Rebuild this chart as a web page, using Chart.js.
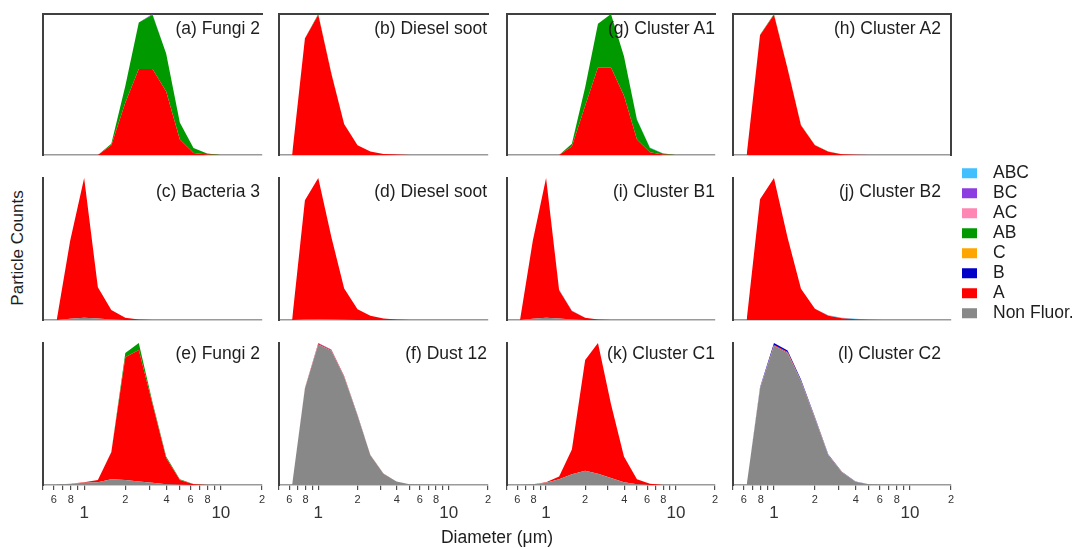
<!DOCTYPE html>
<html><head><meta charset="utf-8">
<script src="https://cdn.jsdelivr.net/npm/chart.js@4.4.1/dist/chart.umd.min.js"></script>
<style>
html,body{margin:0;padding:0;background:#fff}
body{width:1079px;height:548px;position:relative;overflow:hidden;font-family:"Liberation Sans",Arial,Helvetica,sans-serif;color:#1e1e1e}
canvas{position:absolute}
.ttl{position:absolute;font-size:17.5px;line-height:1;white-space:nowrap;transform:translate(-100%,-50%)}
.legrow{position:absolute;left:962px;white-space:nowrap;transform:translateY(-50%);display:flex;align-items:center;font-size:17.5px;line-height:1}
.sw{display:inline-block;width:15px;height:10px;margin-right:16px}
.ylab{position:absolute;left:18px;top:248px;font-size:17px;white-space:nowrap;transform:translate(-50%,-50%) rotate(-90deg)}
.xlab{position:absolute;left:497px;top:537px;font-size:17.5px;white-space:nowrap;transform:translate(-50%,-50%)}
</style></head><body>
<script>
// ---------- data ----------
const diameters = [0.63, 0.79, 1.0, 1.26, 1.58, 2.0, 2.51, 3.16, 3.98, 5.01, 6.31, 7.94, 10.0];
const seriesNames = ['Non Fluor.', 'A', 'B', 'C', 'AB', 'AC', 'BC', 'ABC'];
const seriesColors = ['#888888', '#ff0000', '#0000c8', '#ffa500', '#009a00', '#ff85b5', '#8c3ce0', '#40c0ff'];
const xTickValues = [0.5, 0.6, 0.7, 0.8, 0.9, 1, 2, 3, 4, 5, 6, 7, 8, 9, 10, 20];
const xTickLabels = ['', '6', '', '8', '', '1', '2', '', '4', '', '6', '', '8', '', '10', '2'];
const xMajorLabels = ['1', '10'];
const xAxisTitle = 'Diameter (\u03bcm)';
const yAxisTitle = 'Particle Counts';

// (a) Fungi 2
const aA  = [0, 0, 0, 0, 7, 37, 61, 61, 45, 11, 1.5, 0.3, 0];
const aAB = [0, 0, 0, 0, 1, 12, 33, 38.5, 27, 12, 3.5, 0.7, 0];
const aBC = [0, 0, 0, 0, 0, 0, 0, 0.5, 0, 0, 0, 0, 0];
// (b) Diesel soot
const bA  = [0, 83, 100, 58, 22, 7, 2.5, 0.8, 0.3, 0, 0, 0, 0];
const bAB = [0, 0.3, 0.5, 0.3, 0.1, 0, 0, 0, 0, 0, 0, 0, 0];
// (c) Bacteria 3
const cNon = [0, 0.8, 1.5, 1, 0.4, 0, 0, 0, 0, 0, 0, 0, 0];
const cA   = [0, 55, 98.5, 22, 6.6, 1.5, 0.3, 0, 0, 0, 0, 0, 0];
// (d) Diesel soot
const dNon = [0, 0.3, 0.5, 0.4, 0.2, 0, 0, 0, 0, 0, 0, 0, 0];
const dA   = [0, 84, 99.5, 58, 22, 7.5, 3, 1, 0.4, 0, 0, 0, 0];
// (e) Fungi 2
const eNon = [0.3, 0.8, 1.5, 2, 4, 3.5, 2.5, 1.5, 0.5, 0.1, 0, 0, 0];
const eA   = [0, 0, 0.5, 1.5, 19, 86.5, 92.5, 55.5, 18.5, 3.4, 0.5, 0, 0];
const eAB  = [0, 0, 0, 0, 0.3, 3, 5, 1.5, 1, 0.5, 0.2, 0, 0];
// (f) Dust 12
const fNon = [0, 68, 99, 94.5, 76, 49, 21, 8, 2.5, 0.6, 0.2, 0, 0];
const fA   = [0, 0.3, 0.6, 0.6, 0.5, 0.3, 0.2, 0.1, 0, 0, 0, 0, 0];
const fBC  = [0, 0, 0.4, 0.4, 0.3, 0.2, 0, 0, 0, 0, 0, 0, 0];
// (g) Cluster A1
const gA   = [0, 0, 0, 0, 6, 35, 62, 62, 42, 11, 2, 0.3, 0];
const gAB  = [0, 0, 0, 0, 2, 13, 31, 38, 28, 14, 3, 0.7, 0];
const gABC = [0, 0, 0, 0, 0, 0, 0, 0, 0, 0.3, 0.4, 0.2, 0];
// (h) Cluster A2
const hA  = [0, 85, 99.5, 61, 21, 7, 2.3, 0.5, 0.2, 0, 0, 0, 0];
const hAB = [0, 0.3, 0.5, 0.3, 0.2, 0.1, 0.1, 0.1, 0.05, 0, 0, 0, 0];
// (i) Cluster B1
const iNon = [0, 0.8, 1.5, 1, 0.4, 0, 0, 0, 0, 0, 0, 0, 0];
const iA   = [0, 55, 98.5, 20, 6, 1.5, 0.3, 0, 0, 0, 0, 0, 0];
const iABC = [0, 0, 0, 0.4, 0.3, 0, 0, 0, 0, 0, 0, 0, 0];
// (j) Cluster B2
const jA   = [0, 85, 100, 58, 22, 8, 3, 1.2, 0.5, 0.1, 0, 0, 0];
const jABC = [0, 0, 0, 0, 0, 0, 0.3, 0.4, 0.3, 0.2, 0, 0, 0];
// (k) Cluster C1
const kNon = [0, 0.5, 1.5, 4, 7.5, 10, 8, 5, 2, 0.5, 0, 0, 0];
const kA   = [0, 0, 0.5, 2, 17.5, 78, 92, 52, 18, 3.5, 0.8, 0, 0];
// (l) Cluster C2
const lNon = [0, 68, 98, 93, 73, 47, 21, 9, 2.3, 0.5, 0, 0, 0];
const lA   = [0, 0.3, 0.6, 0.6, 0.5, 0.3, 0.2, 0.1, 0, 0, 0, 0, 0];
const lB   = [0, 0.5, 1.4, 1.2, 0.8, 0.5, 0.3, 0.2, 0.1, 0.05, 0, 0, 0];

// ---------- layout ----------
const colLeft = [43, 279, 507, 733];
const colRight = [262, 488, 715, 951];
const rowTop = [14, 178, 343];
const rowBottom = [155, 320, 485];
const titleRight = [260, 487, 715, 941];
const titleY = [29, 192, 354];
const FONT = '"Liberation Sans", Arial, Helvetica, sans-serif';

const panels = [
  {title: '(a) Fungi 2', col: 0, row: 0, series: [['A', aA], ['AB', aAB], ['BC', aBC]]},
  {title: '(b) Diesel soot', col: 1, row: 0, series: [['A', bA], ['AB', bAB]]},
  {title: '(g) Cluster A1', col: 2, row: 0, series: [['A', gA], ['AB', gAB], ['ABC', gABC]]},
  {title: '(h) Cluster A2', col: 3, row: 0, series: [['A', hA], ['AB', hAB]], rightBorder: true},
  {title: '(c) Bacteria 3', col: 0, row: 1, series: [['Non Fluor.', cNon], ['A', cA]]},
  {title: '(d) Diesel soot', col: 1, row: 1, series: [['Non Fluor.', dNon], ['A', dA]]},
  {title: '(i) Cluster B1', col: 2, row: 1, series: [['Non Fluor.', iNon], ['A', iA], ['ABC', iABC]]},
  {title: '(j) Cluster B2', col: 3, row: 1, series: [['A', jA], ['ABC', jABC]]},
  {title: '(e) Fungi 2', col: 0, row: 2, series: [['Non Fluor.', eNon], ['A', eA], ['AB', eAB]]},
  {title: '(f) Dust 12', col: 1, row: 2, series: [['Non Fluor.', fNon], ['A', fA], ['BC', fBC]]},
  {title: '(k) Cluster C1', col: 2, row: 2, series: [['Non Fluor.', kNon], ['A', kA]]},
  {title: '(l) Cluster C2', col: 3, row: 2, series: [['Non Fluor.', lNon], ['A', lA], ['B', lB]]}
];

function zeroPad(s) { s.paddingLeft = 0; s.paddingRight = 0; s.paddingTop = 0; s.paddingBottom = 0; }

function buildPanel(p) {
  const pad = 8;
  const L = colLeft[p.col], R = colRight[p.col], T = rowTop[p.row], B = rowBottom[p.row];
  const isBottom = p.row === 2;
  const axisH = isBottom ? 44 : 0;
  const w = R - L + 2 * pad, h = B - T + 2 * pad + axisH;
  const cv = document.createElement('canvas');
  cv.width = w; cv.height = h;
  cv.style.left = (L - pad) + 'px'; cv.style.top = (T - pad) + 'px';
  cv.style.width = w + 'px'; cv.style.height = h + 'px';
  document.body.appendChild(cv);

  const ordered = p.series.slice().sort((a, b) => seriesNames.indexOf(a[0]) - seriesNames.indexOf(b[0]));
  const datasets = ordered.map(([name, vals], i) => ({
    label: name,
    data: vals.map((v, k) => ({x: diameters[k], y: v})),
    backgroundColor: seriesColors[seriesNames.indexOf(name)],
    borderColor: 'rgba(0,0,0,0)',
    borderWidth: 0,
    pointRadius: 0, pointHoverRadius: 0,
    tension: 0,
    fill: i === 0 ? 'origin' : '-1',
    xAxisID: 'x', yAxisID: 'y'
  }));
  let maxTotal = 0;
  diameters.forEach((d, k) => {
    let s = 0; ordered.forEach(([n, v]) => { s += v[k]; });
    maxTotal = Math.max(maxTotal, s);
  });

  const scales = {
    x: {
      type: 'logarithmic', position: 'bottom', min: 0.5, max: 20,
      afterBuildTicks: s => { s.ticks = xTickValues.map(v => ({value: v})); },
      afterFit: s => { s.height = axisH; zeroPad(s); },
      border: {display: true, color: '#9a9a9a', width: 1.5},
      grid: {display: isBottom, drawOnChartArea: false, drawTicks: true, tickLength: 5, color: '#505050', lineWidth: 1.2},
      ticks: {
        display: isBottom, autoSkip: false, maxRotation: 0, minRotation: 0, padding: 3, color: '#333',
        callback: (val, idx) => { const lab = xTickLabels[idx]; return xMajorLabels.includes(lab) ? ['', lab] : lab; },
        font: ctx => {
          const lab = xTickLabels[ctx.index];
          return xMajorLabels.includes(lab) ? {family: FONT, size: 17, lineHeight: 0.78} : {family: FONT, size: 11, lineHeight: 1.2};
        }
      }
    },
    y: {
      stacked: true, min: 0, max: maxTotal, position: 'left', display: true,
      ticks: {display: false}, grid: {display: false, drawTicks: false},
      border: {display: true, color: '#404040', width: 2},
      afterFit: s => { s.width = 0; zeroPad(s); }
    }
  };
  if (p.row === 0) {
    scales.xTop = {
      type: 'linear', position: 'top', display: true, min: 0, max: 1,
      ticks: {display: false}, grid: {display: false, drawTicks: false},
      border: {display: true, color: '#404040', width: 2},
      afterFit: s => { s.height = 0; zeroPad(s); }
    };
  }
  if (p.rightBorder) {
    scales.yRight = {
      type: 'linear', position: 'right', display: true, min: 0, max: 1,
      ticks: {display: false}, grid: {display: false, drawTicks: false},
      border: {display: true, color: '#404040', width: 2},
      afterFit: s => { s.width = 0; zeroPad(s); }
    };
  }

  new Chart(cv, {
    type: 'line',
    data: {datasets},
    options: {
      responsive: false, animation: false, devicePixelRatio: 1, events: [],
      layout: {padding: {left: pad, right: pad, top: pad, bottom: pad}},
      plugins: {legend: {display: false}, tooltip: {enabled: false}, title: {display: false}},
      scales
    }
  });

  const t = document.createElement('div');
  t.className = 'ttl';
  t.textContent = p.title;
  t.style.left = titleRight[p.col] + 'px';
  t.style.top = titleY[p.row] + 'px';
  document.body.appendChild(t);
}

panels.forEach(buildPanel);

// legend (top to bottom: ABC ... Non Fluor.)
seriesNames.slice().reverse().forEach((name, i) => {
  const row = document.createElement('div');
  row.className = 'legrow';
  row.style.top = (173 + 20 * i) + 'px';
  const sw = document.createElement('span');
  sw.className = 'sw';
  sw.style.background = seriesColors[seriesNames.indexOf(name)];
  row.appendChild(sw);
  row.appendChild(document.createTextNode(name));
  document.body.appendChild(row);
});

const yl = document.createElement('div'); yl.className = 'ylab'; yl.textContent = yAxisTitle; document.body.appendChild(yl);
const xl = document.createElement('div'); xl.className = 'xlab'; xl.textContent = xAxisTitle; document.body.appendChild(xl);
</script>
</body></html>
